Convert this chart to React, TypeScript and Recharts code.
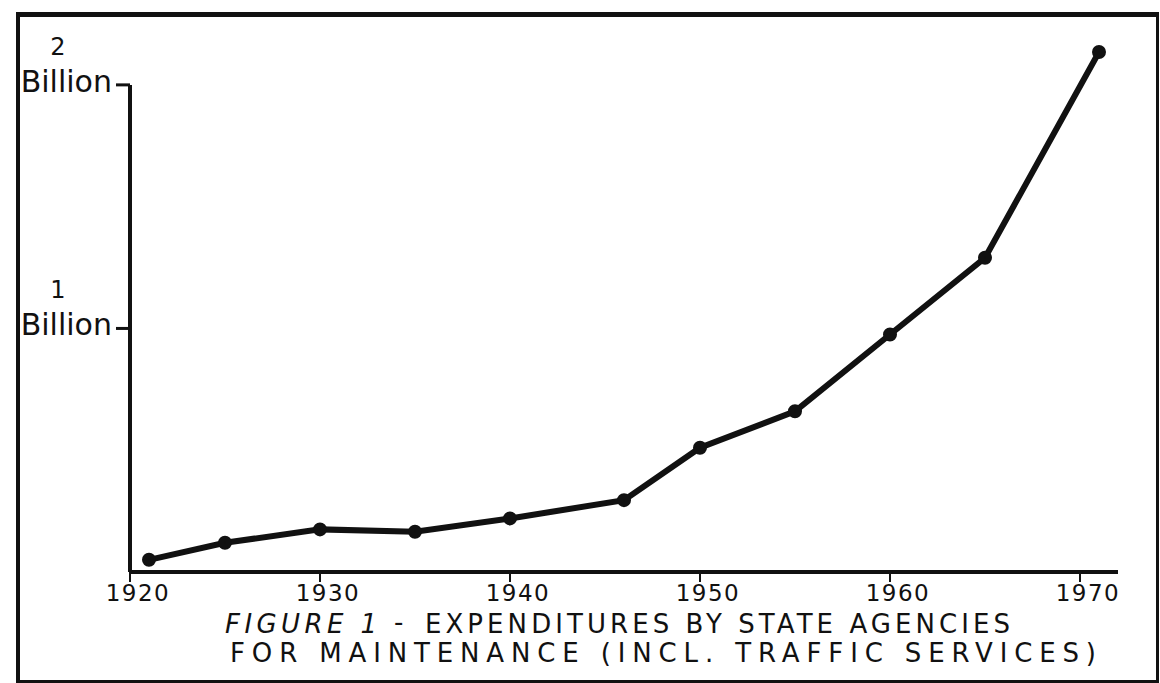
import { LineChart, Line, XAxis, YAxis, ReferenceLine } from "recharts";

const years = [1921, 1925, 1930, 1935, 1940, 1946, 1950, 1955, 1960, 1965, 1971];
const spending = [0.05, 0.12, 0.175, 0.165, 0.22, 0.295, 0.51, 0.66, 0.975, 1.29, 2.135];
const yearTicks = [1920, 1930, 1940, 1950, 1960, 1970];
const billionTicks = [1, 2];

const data = years.map((year, i) => ({ year, spending: spending[i] }));

const ink = "#111";
const hand = "'DejaVu Sans', 'Liberation Sans', sans-serif";

type TickProps = {
  x?: number;
  y?: number;
  payload?: { value: number };
};

function YearTick({ x = 0, y = 0, payload }: TickProps) {
  return (
    <g>
      <line x1={x} y1={y - 10} x2={x} y2={y + 2} stroke={ink} strokeWidth={2} />
      <text
        x={x + 8}
        y={y + 21}
        textAnchor="middle"
        fontFamily={hand}
        fontSize={23}
        letterSpacing={1.5}
        fill={ink}
      >
        {payload?.value}
      </text>
    </g>
  );
}

function BillionTick({ x = 0, y = 0, payload }: TickProps) {
  const value = payload?.value ?? 0;
  return (
    <g>
      <line x1={x - 6} y1={y} x2={x + 8} y2={y} stroke={ink} strokeWidth={3} />
      <text
        x={x - 64}
        y={y - 30}
        textAnchor="middle"
        fontFamily={hand}
        fontSize={24}
        fill={ink}
      >
        {value}
      </text>
      <text
        x={x - 10}
        y={y + 7}
        textAnchor="end"
        fontFamily={hand}
        fontSize={30}
        fill={ink}
      >
        Billion
      </text>
    </g>
  );
}

export default function App() {
  return (
    <div
      style={{
        position: "absolute",
        left: 0,
        top: 0,
        width: 1160,
        height: 683,
        background: "#fff"
      }}
    >
      <div
        style={{
          position: "absolute",
          left: 16,
          top: 12,
          width: 1136,
          height: 663,
          borderStyle: "solid",
          borderColor: ink,
          borderWidth: "5px 3px 3px 4px"
        }}
      />
      <div style={{ position: "absolute", left: 0, top: 0 }}>
        <LineChart
          width={1160}
          height={683}
          data={data}
          margin={{ top: 52, right: 42, bottom: 70, left: 0 }}
        >
          <XAxis
            type="number"
            dataKey="year"
            domain={[1920, 1972]}
            ticks={yearTicks}
            tick={<YearTick />}
            tickLine={false}
            axisLine={{ stroke: ink, strokeWidth: 4 }}
            height={41}
          />
          <YAxis
            type="number"
            domain={[0, 2.135]}
            ticks={billionTicks}
            tick={<BillionTick />}
            tickLine={false}
            axisLine={false}
            width={130}
          />
          <ReferenceLine
            segment={[
              { x: 1920, y: 0 },
              { x: 1920, y: 2 }
            ]}
            stroke={ink}
            strokeWidth={4}
          />
          <Line
            type="linear"
            dataKey="spending"
            stroke={ink}
            strokeWidth={6}
            dot={{ r: 4, fill: ink, stroke: ink }}
            isAnimationActive={false}
          />
        </LineChart>
      </div>
      <svg
        width={1160}
        height={683}
        style={{ position: "absolute", left: 0, top: 0, pointerEvents: "none" }}
      >
        <g fontFamily={hand} fill={ink} fontSize={26}>
          <text x={225} y={633} fontStyle="italic" textLength={152} lengthAdjust="spacing">
            FIGURE 1
          </text>
          <text x={394} y={631}>-</text>
          <text x={425} y={633} textLength={585} lengthAdjust="spacing">
            EXPENDITURES  BY  STATE  AGENCIES
          </text>
          <text x={230} y={662} textLength={866} lengthAdjust="spacing">
            FOR MAINTENANCE (INCL. TRAFFIC SERVICES)
          </text>
        </g>
      </svg>
    </div>
  );
}
